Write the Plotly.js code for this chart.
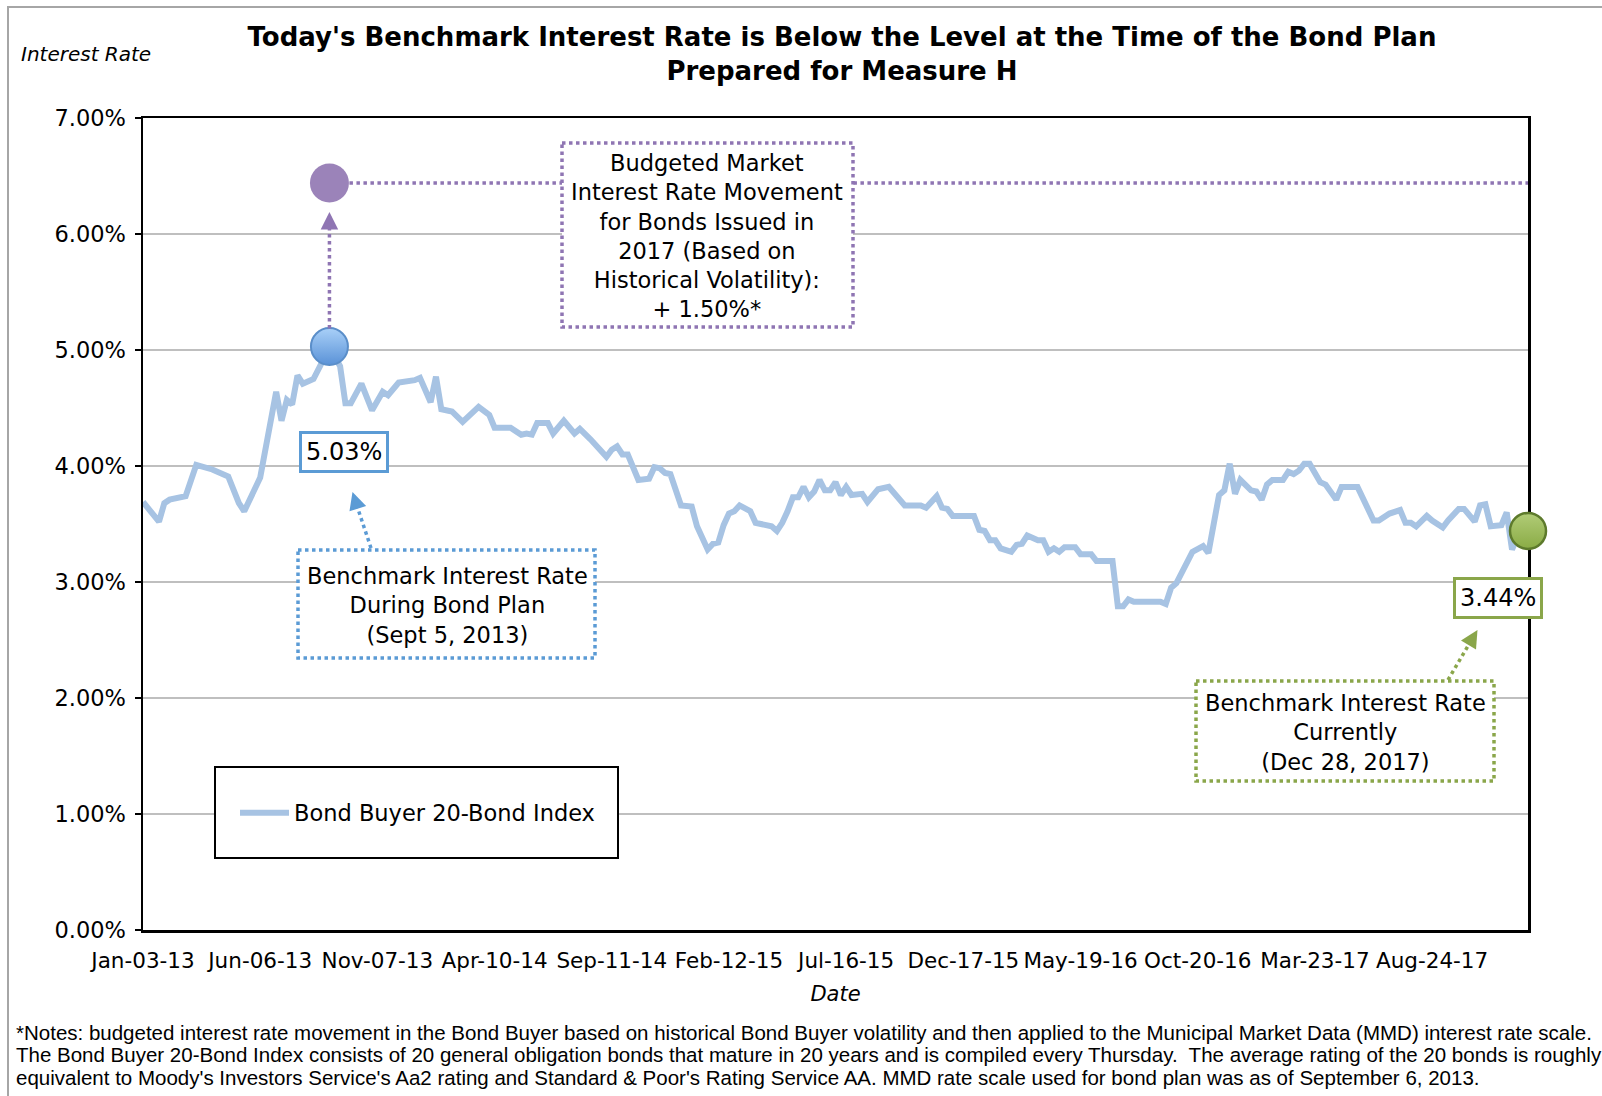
<!DOCTYPE html>
<html>
<head>
<meta charset="utf-8">
<script src="https://cdn.plot.ly/plotly-3.0.1.min.js"></script>
<style>
html,body{margin:0;padding:0;background:#ffffff;}
#chart{width:1602px;height:1096px;}
</style>
</head>
<body>
<div id="chart"></div>
<script>
// ---------------- DATA ----------------
// Weeks since Jan-03-13 (weekly Thursday observations) at visible turning points of the line
const weekIndex = [0,3,4,5,8,10,13,16,18,19,22,23,25,26,27,28,29,30,32,34,35,37,38,39,41,43,45,46,48,51,52,54,55,56,58,60,63,65,66,69,71,72,73,74,76,77,79,81,82,84,85,87,88,89,90,91,93,95,96,97,98,99,101,103,104,106,107,108,109,110,111,112,114,115,116,118,119,120,121,122,123,124,125,126,127,128,129,130,131,132,133,135,136,138,140,142,143,146,147,149,150,151,152,156,157,158,159,160,161,163,164,165,166,168,169,170,171,172,173,175,176,178,179,182,183,184,185,186,191,192,193,194,195,197,199,200,202,203,204,205,206,208,209,210,211,212,214,215,216,217,218,219,220,221,222,224,225,228,231,232,234,236,237,238,239,241,242,244,245,247,248,250,251,252,253,255,256,257,258,259,260];
// Bond Buyer 20-Bond Index (%)
const rateValues = [3.69,3.52,3.68,3.71,3.74,4.01,3.97,3.91,3.68,3.61,3.90,4.16,4.64,4.39,4.57,4.53,4.78,4.71,4.75,4.93,5.03,4.86,4.54,4.54,4.71,4.48,4.64,4.61,4.72,4.74,4.76,4.55,4.77,4.49,4.47,4.38,4.51,4.44,4.33,4.33,4.27,4.28,4.27,4.37,4.37,4.28,4.39,4.28,4.32,4.23,4.18,4.08,4.14,4.17,4.10,4.10,3.88,3.89,3.99,3.98,3.94,3.93,3.66,3.65,3.48,3.28,3.33,3.34,3.49,3.59,3.61,3.66,3.61,3.51,3.50,3.48,3.44,3.51,3.61,3.73,3.73,3.82,3.73,3.78,3.88,3.79,3.79,3.86,3.75,3.82,3.75,3.76,3.69,3.80,3.82,3.71,3.66,3.66,3.64,3.74,3.64,3.63,3.57,3.57,3.45,3.44,3.36,3.36,3.29,3.26,3.32,3.33,3.40,3.36,3.36,3.26,3.29,3.26,3.30,3.30,3.24,3.24,3.18,3.18,2.79,2.79,2.85,2.83,2.83,2.81,2.95,2.99,3.09,3.26,3.31,3.25,3.75,3.79,4.02,3.76,3.88,3.79,3.78,3.71,3.84,3.88,3.88,3.95,3.93,3.96,4.02,4.02,3.94,3.86,3.84,3.71,3.82,3.82,3.53,3.53,3.59,3.62,3.51,3.51,3.48,3.57,3.53,3.47,3.53,3.63,3.63,3.52,3.66,3.67,3.48,3.49,3.60,3.28,3.39,3.55,3.44];

const tickWeeks  = [0,22,44,66,88,110,132,154,176,198,220,242];
const tickLabels = ['Jan-03-13','Jun-06-13','Nov-07-13','Apr-10-14','Sep-11-14','Feb-12-15','Jul-16-15','Dec-17-15','May-19-16','Oct-20-16','Mar-23-17','Aug-24-17'];
const majorTickWeeks = [0,50,100,150,200,250];
const yTickValues = [0,1,2,3,4,5,6,7];
const yTickLabels = ['0.00%','1.00%','2.00%','3.00%','4.00%','5.00%','6.00%','7.00%'];

const planWeek = [35];        // Sept 5, 2013
const planRate = [5.03];
const currentWeek = [260];    // Dec 28, 2017
const currentRate = [3.44];
const budgetedRate = [6.44];  // budgeted level (+1.50% on MMD scale)

const titleLines = ["Today's Benchmark Interest Rate is Below the Level at the Time of the Bond Plan", "Prepared for Measure H"];
const budgetLines = ['Budgeted Market','Interest Rate Movement','for Bonds Issued in','2017 (Based on','Historical Volatility):','+ 1.50%*'];
const planLines = ['Benchmark Interest Rate','During Bond Plan','(Sept 5, 2013)'];
const currentLines = ['Benchmark Interest Rate','Currently','(Dec 28, 2017)'];
const noteLines = [
  '*Notes: budgeted interest rate movement in the Bond Buyer based on historical Bond Buyer volatility and then applied to the Municipal Market Data (MMD) interest rate scale.',
  'The Bond Buyer 20-Bond Index consists of 20 general obligation bonds that mature in 20 years and is compiled every Thursday.  The average rating of the 20 bonds is roughly',
  "equivalent to Moody's Investors Service's Aa2 rating and Standard & Poor's Rating Service AA. MMD rate scale used for bond plan was as of September 6, 2013."
];

// ---------------- LAYOUT HELPERS ----------------
const W = 1602, H = 1096;
const L = 143, R = 1528, T = 118, B = 930;
const fx = x => (x - L) / (R - L);
const fy = y => (B - y) / (B - T);
const pxPerWeek = (R - L) / 260;
const pxPerPct = (B - T) / 7;

const FONT = 'DejaVu Sans, Verdana, sans-serif';
const NOTEFONT = 'Liberation Sans, Arial, sans-serif';
const LINEBLUE = '#a7c3e3';
const BLUE = '#5b9bd5';
const PURPLE = '#8f75b3';
const GREEN = '#8aa64a';

const traces = [
  {
    x: weekIndex, y: rateValues, type: 'scatter', mode: 'lines',
    name: 'Bond Buyer 20-Bond Index',
    line: {color: LINEBLUE, width: 6},
    hoverinfo: 'skip'
  },
  {
    x: planWeek, y: budgetedRate, type: 'scatter', mode: 'markers', showlegend: false, cliponaxis: false,
    marker: {size: 39, color: '#9b83b9', line: {width: 0}}, hoverinfo: 'skip'
  },
  {
    x: planWeek, y: planRate, type: 'scatter', mode: 'markers', showlegend: false, cliponaxis: false,
    marker: {size: 37, color: '#a9d0f8', gradient: {type: 'vertical', color: '#5a92d7'}, line: {color: '#5a8ec9', width: 2}},
    hoverinfo: 'skip'
  },
  {
    x: currentWeek, y: currentRate, type: 'scatter', mode: 'markers', showlegend: false, cliponaxis: false,
    marker: {size: 36, color: '#b1cc77', gradient: {type: 'vertical', color: '#8aab45'}, line: {color: '#5d7a2c', width: 2.5}},
    hoverinfo: 'skip'
  }
];

const rPx = 20;
const shapes = [
  // outer frame
  {type: 'rect', xref: 'paper', yref: 'paper', x0: fx(8), x1: fx(1620), y0: fy(7), y1: fy(1120),
   line: {color: '#a6a6a6', width: 2}, fillcolor: 'rgba(0,0,0,0)', layer: 'below'},
  // purple vertical dotted line (from plan marker up)
  {type: 'line', xref: 'x', yref: 'y', x0: planWeek[0], x1: planWeek[0],
   y0: planRate[0] + (rPx - 2) / pxPerPct, y1: budgetedRate[0] - (rPx + 14) / pxPerPct,
   line: {color: PURPLE, width: 3.5, dash: 'dot'}, layer: 'above'},
  // purple horizontal dotted line
  {type: 'line', xref: 'x', yref: 'y', x0: planWeek[0] + rPx / pxPerWeek, x1: 260,
   y0: budgetedRate[0], y1: budgetedRate[0],
   line: {color: PURPLE, width: 3.5, dash: 'dot'}, layer: 'above'},
  // blue dotted arrow line
  {type: 'line', xref: 'paper', yref: 'paper', x0: fx(371), y0: fy(548), x1: fx(356), y1: fy(503),
   line: {color: BLUE, width: 3.5, dash: 'dot'}, layer: 'above'},
  // green dotted arrow line
  {type: 'line', xref: 'paper', yref: 'paper', x0: fx(1448), y0: fy(680), x1: fx(1472), y1: fy(639),
   line: {color: GREEN, width: 3.5, dash: 'dot'}, layer: 'above'},
  // purple dotted box
  {type: 'rect', xref: 'paper', yref: 'paper', x0: fx(562), x1: fx(853), y0: fy(143), y1: fy(327),
   line: {color: PURPLE, width: 3.5, dash: 'dot'}, fillcolor: '#ffffff', layer: 'above'},
  // blue dotted box
  {type: 'rect', xref: 'paper', yref: 'paper', x0: fx(298), x1: fx(595), y0: fy(550), y1: fy(658),
   line: {color: BLUE, width: 3.5, dash: 'dot'}, fillcolor: '#ffffff', layer: 'above'},
  // green dotted box
  {type: 'rect', xref: 'paper', yref: 'paper', x0: fx(1196), x1: fx(1494), y0: fy(681), y1: fy(781),
   line: {color: GREEN, width: 3.5, dash: 'dot'}, fillcolor: '#ffffff', layer: 'above'},
  // legend box
  {type: 'rect', xref: 'paper', yref: 'paper', x0: fx(215), x1: fx(618), y0: fy(767), y1: fy(858),
   line: {color: '#000000', width: 2}, fillcolor: '#ffffff', layer: 'above'}
];

const annotations = [
  {text: 'Interest Rate', xref: 'paper', yref: 'paper', x: fx(19), y: fy(54), xanchor: 'left', yanchor: 'middle',
   showarrow: false, font: {family: FONT, size: 20, style: 'italic', color: '#000'}},
  {text: budgetLines.join('<br>'), xref: 'paper', yref: 'paper', x: fx(707), y: fy(236), xanchor: 'center', yanchor: 'middle',
   showarrow: false, font: {family: FONT, size: 22.5, color: '#000'}},
  {text: planLines.join('<br>'), xref: 'paper', yref: 'paper', x: fx(447), y: fy(605), xanchor: 'center', yanchor: 'middle',
   showarrow: false, font: {family: FONT, size: 22.5, color: '#000'}},
  {text: currentLines.join('<br>'), xref: 'paper', yref: 'paper', x: fx(1345), y: fy(732), xanchor: 'center', yanchor: 'middle',
   showarrow: false, font: {family: FONT, size: 22.5, color: '#000'}},
  {text: planRate[0].toFixed(2) + '%', xref: 'paper', yref: 'paper', x: fx(343.5), y: fy(452), xanchor: 'center', yanchor: 'middle',
   showarrow: false, bgcolor: '#ffffff', bordercolor: BLUE, borderwidth: 3, borderpad: 4,
   font: {family: FONT, size: 24, color: '#000'}},
  {text: currentRate[0].toFixed(2) + '%', xref: 'paper', yref: 'paper', x: fx(1498), y: fy(597.5), xanchor: 'center', yanchor: 'middle',
   showarrow: false, bgcolor: '#ffffff', bordercolor: GREEN, borderwidth: 3, borderpad: 4,
   font: {family: FONT, size: 24, color: '#000'}},
  // arrowheads
  {text: '', xref: 'x', yref: 'y', x: planWeek[0], y: budgetedRate[0] - (rPx + 9) / pxPerPct, ax: 0, ay: 10,
   showarrow: true, arrowhead: 2, arrowsize: 1, arrowwidth: 3.5, arrowcolor: PURPLE, standoff: 0},
  {text: '', xref: 'paper', yref: 'paper', x: fx(352.5), y: fy(492), ax: 3.5, ay: 11,
   showarrow: true, arrowhead: 2, arrowsize: 1, arrowwidth: 3.5, arrowcolor: BLUE, standoff: 0},
  {text: '', xref: 'paper', yref: 'paper', x: fx(1477.5), y: fy(630), ax: -6, ay: 10,
   showarrow: true, arrowhead: 2, arrowsize: 1, arrowwidth: 3.5, arrowcolor: GREEN, standoff: 0}
];
noteLines.forEach((t, i) => {
  annotations.push({text: t, xref: 'paper', yref: 'paper', x: fx(14), y: fy(1032 + i * 22.5), xanchor: 'left', yanchor: 'middle',
    showarrow: false, font: {family: NOTEFONT, size: 20.5, color: '#000'}});
});

const layout = {
  width: W, height: H,
  margin: {l: L, r: W - R, t: T, b: H - B, pad: 0},
  paper_bgcolor: '#ffffff', plot_bgcolor: '#ffffff',
  showlegend: true,
  title: {
    text: titleLines.join('<br>'),
    font: {family: FONT, size: 26, color: '#000', weight: 'bold'},
    x: 842 / W, xref: 'container', xanchor: 'center',
    y: 1 - 46 / H, yref: 'container', yanchor: 'top'
  },
  xaxis: {
    range: [0, 260], tickmode: 'array', tickvals: tickWeeks, ticktext: tickLabels,
    ticks: '', showgrid: false, zeroline: false,
    showline: true, linecolor: '#000', linewidth: 2.5, mirror: true,
    tickfont: {family: FONT, size: 21.5, color: '#000'}, ticklabelstandoff: 10,
    title: {text: 'Date', font: {family: FONT, size: 21, style: 'italic', color: '#000'}, standoff: 14},
    layer: 'below traces', fixedrange: true
  },
  xaxis2: {
    overlaying: 'x', anchor: 'y', side: 'bottom', range: [0, 260], tickmode: 'array', tickvals: majorTickWeeks,
    ticks: 'outside', ticklen: 6, tickwidth: 2, tickcolor: '#000', showticklabels: false,
    showgrid: false, zeroline: false, showline: false, fixedrange: true
  },
  xaxis3: {
    overlaying: 'x', anchor: 'y', side: 'bottom', range: [0, 260], tickmode: 'array', tickvals: majorTickWeeks,
    ticks: 'inside', ticklen: 6, tickwidth: 2, tickcolor: '#000', showticklabels: false,
    showgrid: false, zeroline: false, showline: false, fixedrange: true
  },
  yaxis: {
    range: [0, 7], tickmode: 'array', tickvals: yTickValues, ticktext: yTickLabels,
    ticks: 'outside', ticklen: 6, tickwidth: 2, tickcolor: '#000',
    showgrid: true, gridcolor: '#bfbfbf', gridwidth: 1.5, zeroline: false,
    showline: true, linecolor: '#000', linewidth: 2.5, mirror: true,
    tickfont: {family: FONT, size: 22.5, color: '#000'}, ticklabelstandoff: 4,
    layer: 'below traces', fixedrange: true
  },
  yaxis2: {
    overlaying: 'y', anchor: 'x', side: 'left', range: [0, 7], tickmode: 'array', tickvals: yTickValues,
    ticks: 'inside', ticklen: 6, tickwidth: 2, tickcolor: '#000', showticklabels: false,
    showgrid: false, zeroline: false, showline: false, fixedrange: true
  },
  legend: {
    x: fx(235), y: fy(813), xanchor: 'left', yanchor: 'middle', xref: 'paper', yref: 'paper',
    bgcolor: 'rgba(0,0,0,0)', borderwidth: 0, itemwidth: 49,
    font: {family: FONT, size: 22.5, color: '#000'}
  },
  shapes: shapes,
  annotations: annotations
};

Plotly.newPlot('chart', traces, layout, {displayModeBar: false, staticPlot: true});
</script>
</body>
</html>
